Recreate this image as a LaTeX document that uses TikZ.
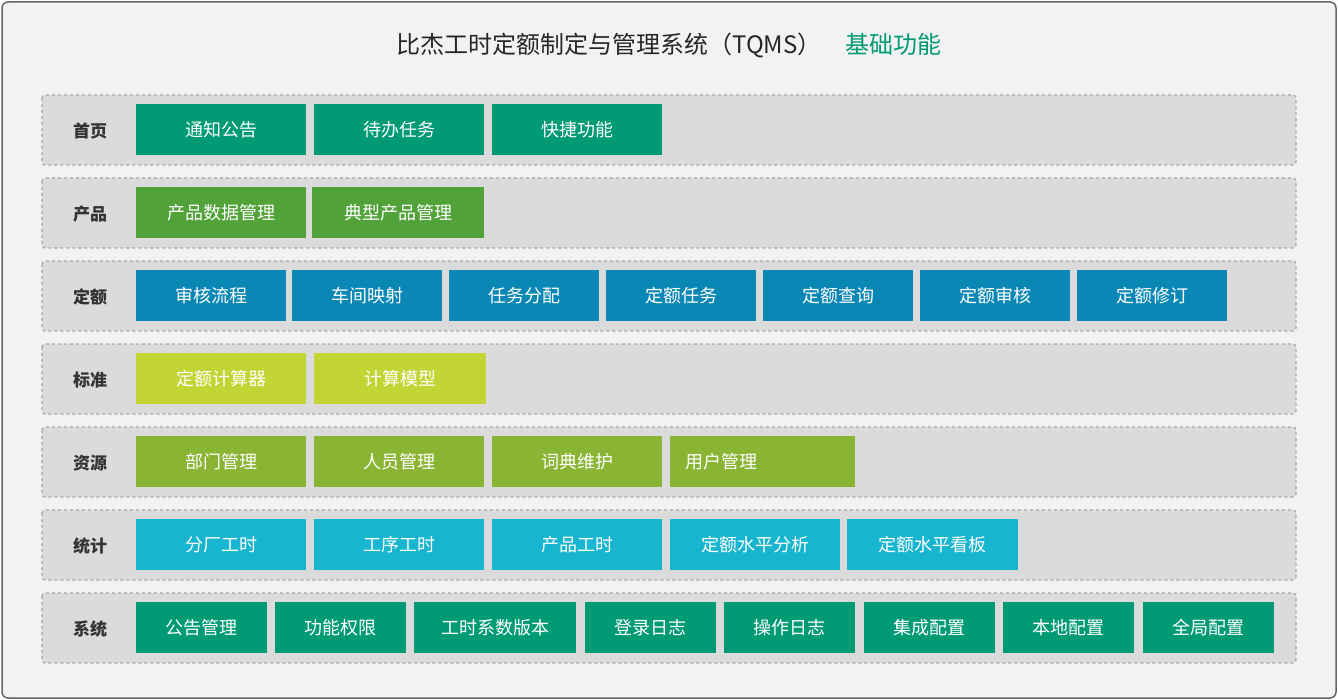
\documentclass[tikz,border=0pt]{standalone}
\usepackage{fontspec}
\setmainfont{Noto Sans CJK SC}
\definecolor{cteal}{HTML}{009A74}
\definecolor{cgreen}{HTML}{52A23A}
\definecolor{cblue}{HTML}{0A87B5}
\definecolor{clime}{HTML}{C3D534}
\definecolor{colive}{HTML}{8AB534}
\definecolor{ccyan}{HTML}{17B5CF}
\tikzset{
  rowbox/.style={draw=gray!70, dashed, line width=1.2pt, fill=gray!28, rounded corners=3pt},
  rowlabel/.style={font=\fontsize{17}{19}\selectfont\bfseries, text=black!80},
  fbox/.style={anchor=north west, minimum height=51pt, inner sep=0pt, text=white,
    font=\fontsize{18}{20}\selectfont}
}
\newcommand{\fb}[5]{\node[fbox, fill=#3, minimum width=#2pt] (#1) at (#4pt,-104pt-#5pt) {\strut\hbox{}};}
\begin{document}
\begin{tikzpicture}[x=1pt,y=-1pt]
  \useasboundingbox (0,0) rectangle (1338,700);
  \draw[fill=gray!10, draw=gray!80!black, line width=1.5pt, rounded corners=6pt] (2,2) rectangle (1336,698);
  \node (title) at (669,45) {\fontsize{24}{28}\selectfont\itshape\color{black!85}比杰工时定额制定与管理系统（TQMS）\quad\color{cteal}基础功能};
  % rows
  \foreach \i/\lab in {0/首页,1/产品,2/定额,3/标准,4/资源,5/统计,6/系统} {
    \draw[rowbox] (42,95+83*\i) rectangle (1296,165+83*\i);
    \node[rowlabel] (lab\i) at (90,131+83*\i) {\lab};
  }
  % boxes: name/x/width/text
  \foreach \n/\x/\w/\t in {a1/136/170/通知公告,a2/314/170/待办任务,a3/492/170/快捷功能}
    \node[fbox, fill=cteal, minimum width=\w] (\n) at (\x,104) {\t};
  \foreach \n/\x/\w/\t in {b1/136/170/产品数据管理,b2/312/172/典型产品管理}
    \node[fbox, fill=cgreen, minimum width=\w] (\n) at (\x,187) {\t};
  \foreach \n/\x/\t in {c1/136/审核流程,c2/292/车间映射,c3/449/任务分配,c4/606/定额任务,c5/763/定额查询,c6/920/定额审核,c7/1077/定额修订}
    \node[fbox, fill=cblue, minimum width=150] (\n) at (\x,270) {\t};
  \foreach \n/\x/\w/\t in {d1/136/170/定额计算器,d2/314/172/计算模型}
    \node[fbox, fill=clime, minimum width=\w] (\n) at (\x,353) {\t};
  \foreach \n/\x/\t in {e1/136/部门管理,e2/314/人员管理,e3/492/词典维护}
    \node[fbox, fill=colive, minimum width=170] (\n) at (\x,436) {\t};
  \node[fbox, fill=colive, minimum width=170, text width=155, align=left, inner xsep=15pt] (e4) at (670,436) {用户管理};
  \foreach \n/\x/\w/\t in {f1/136/170/分厂工时,f2/314/170/工序工时,f3/492/170/产品工时,f4/670/170/定额水平分析,f5/847/171/定额水平看板}
    \node[fbox, fill=ccyan, minimum width=\w] (\n) at (\x,519) {\t};
  \foreach \n/\x/\w/\t in {g1/136/131/公告管理,g2/275/131/功能权限,g3/414/162/工时系数版本,g4/585/131/登录日志,g5/724/131/操作日志,g6/864/131/集成配置,g7/1003/131/本地配置,g8/1143/131/全局配置}
    \node[fbox, fill=cteal, minimum width=\w] (\n) at (\x,602) {\t};
\end{tikzpicture}
\end{document}
